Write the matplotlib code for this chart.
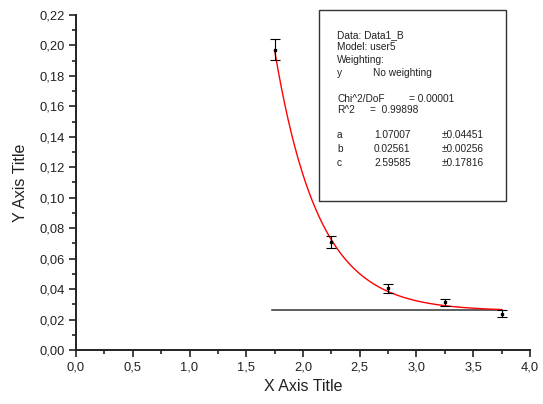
import numpy as np
import matplotlib
matplotlib.use("Agg")
import matplotlib.pyplot as plt
from matplotlib.ticker import FuncFormatter, MultipleLocator
from matplotlib.patches import Rectangle

plt.rcParams['font.family'] = ['Liberation Sans', 'DejaVu Sans']

# Data
x_data = [1.75, 2.25, 2.75, 3.25, 3.75]
y_data = [0.1972, 0.0708, 0.0405, 0.0313, 0.0238]
y_err = [0.0070, 0.0040, 0.0030, 0.0024, 0.0022]

# Fit parameters (from the text box)
fit_a = 1.07007
fit_b = 0.02561
fit_c = 2.59585

# baseline level and span
base_y = 0.0263
base_x = [1.73, 3.75]

box_lines = [
    "Data: Data1_B",
    "Model: user5",
    "Weighting:",
]

fig = plt.figure(figsize=(5.43, 4.04), dpi=100)
ax = fig.add_axes([0.14, 0.1337, 0.836, 0.8292])

# fit curve y = b + exp(-c*(x - a))
xf = np.linspace(x_data[0], x_data[-1], 200)
yf = fit_b + np.exp(-fit_c * (xf - fit_a))
ax.plot(xf, yf, color='red', lw=1.0, zorder=2)

ax.plot(base_x, [base_y, base_y], color='#333333', lw=1.1, zorder=1)

ax.errorbar(x_data, y_data, yerr=y_err, fmt='s', color='black', ms=2.0,
            ecolor='black', elinewidth=0.8, capsize=3.5, capthick=0.8, zorder=3)

ax.set_xlim(0, 4.0)
ax.set_ylim(0, 0.22)
ax.xaxis.set_major_locator(MultipleLocator(0.5))
ax.xaxis.set_minor_locator(MultipleLocator(0.25))
ax.yaxis.set_major_locator(MultipleLocator(0.02))
ax.yaxis.set_minor_locator(MultipleLocator(0.01))
ax.xaxis.set_major_formatter(FuncFormatter(lambda v, p: f"{v:.1f}".replace('.', ',')))
ax.yaxis.set_major_formatter(FuncFormatter(lambda v, p: f"{v:.2f}".replace('.', ',')))

for s in ['top', 'right']:
    ax.spines[s].set_visible(False)
for s in ['left', 'bottom']:
    ax.spines[s].set_linewidth(1.4)
    ax.spines[s].set_color('#222222')

ax.tick_params(which='major', direction='out', length=5, width=1.2, labelsize=9.3,
               color='#222222', labelcolor='#222222', pad=3)
ax.tick_params(which='minor', direction='out', length=3, width=1.2, color='#222222')

ax.set_xlabel("X Axis Title", fontsize=11.5, labelpad=4, color='#222222')
ax.set_ylabel("Y Axis Title", fontsize=11.5, labelpad=8, color='#222222')

# info box
W, H = 543.0, 404.0
def fx(px):
    return px / W
def fy(py):
    return 1 - py / H

fig.patches.append(Rectangle((fx(319), fy(201)), fx(506) - fx(319), (201 - 10) / H,
                             transform=fig.transFigure, fill=True, facecolor='white',
                             edgecolor='#333333', lw=1.0, zorder=5))

fs = 7.3
kw = dict(fontsize=fs, va='center', ha='left', zorder=6, color='#222222')
fig.text(fx(337), fy(35), box_lines[0], **kw)
fig.text(fx(337), fy(47.5), box_lines[1], **kw)
fig.text(fx(337), fy(60), box_lines[2], **kw)
fig.text(fx(337), fy(73), "y", **kw)
fig.text(fx(373), fy(73), "No weighting", **kw)
fig.text(fx(337), fy(99), "Chi^2/DoF", **kw)
fig.text(fx(409), fy(99), "= 0.00001", **kw)
fig.text(fx(337), fy(110), "R^2", **kw)
fig.text(fx(370), fy(110), "=  0.99898", **kw)
for i, (name, val, err) in enumerate([("a", fit_a, 0.04451), ("b", fit_b, 0.00256),
                                      ("c", fit_c, 0.17816)]):
    yy = 135 + i * 14
    fig.text(fx(337), fy(yy), name, **kw)
    fig.text(fx(374), fy(yy), f"{val:.5f}", **kw)
    fig.text(fx(442), fy(yy), f"\u00b1{err:.5f}", **kw)

fig.savefig("out.png", dpi=100)
